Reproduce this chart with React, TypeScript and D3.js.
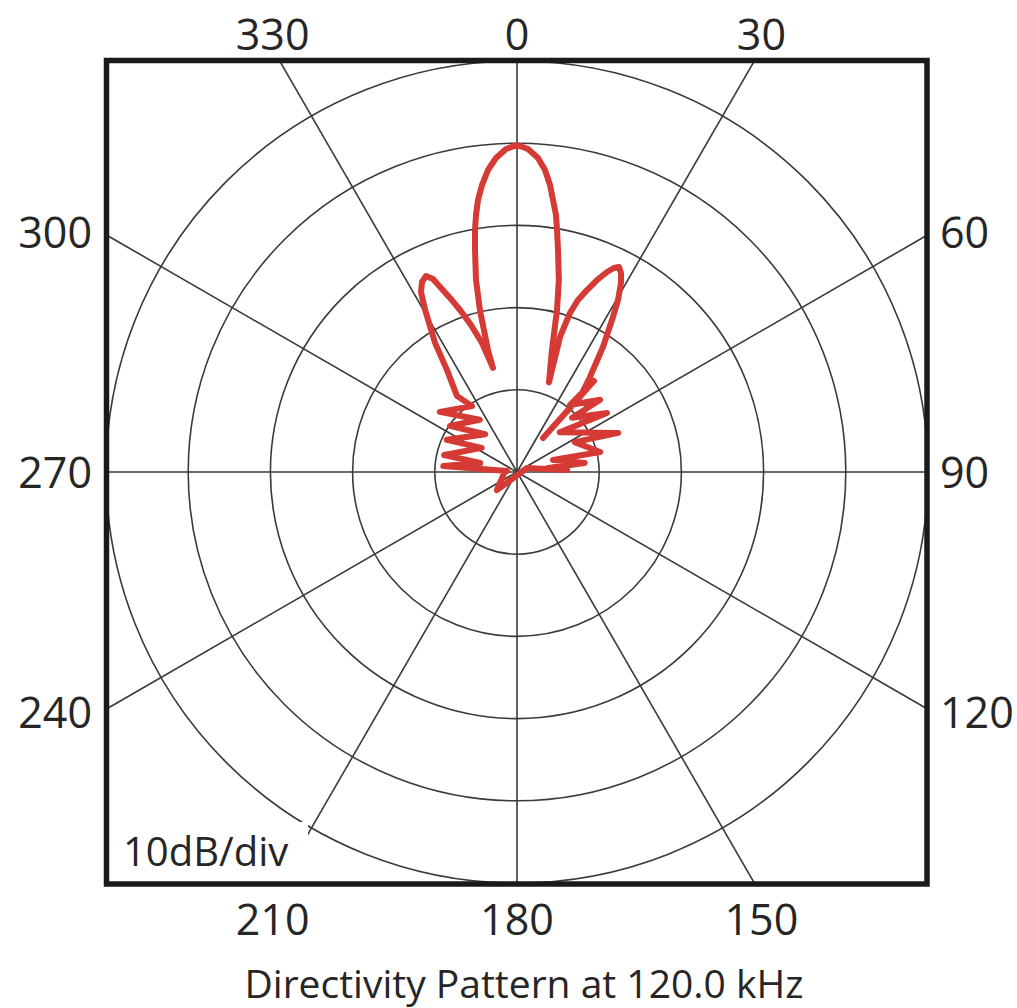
import React from "react";
import * as d3 from "d3";

// ---- Data ----
// Polar grid: 10 dB per division, 5 divisions
const ringLevels = [-40, -30, -20, -10, 0];
const spokeAngles = [0, 30, 60, 90, 120, 150, 180, 210, 240, 270, 300, 330];
const topLabels = ["330", "0", "30"];
const bottomLabels = ["210", "180", "150"];
const leftLabels = ["300", "270", "240"];
const rightLabels = ["60", "90", "120"];
const scaleNote = "10dB/div";
const title = "Directivity Pattern at 120.0 kHz";

// Directivity pattern trace, in drawing order (angle in degrees clockwise from 0, level in dB)
// left ripple region
const leftRippleAngles = [-84, -85.4, -76.3, -76.9, -55.6, -65.4, -40.1, -55.5, -35.4, -52.1, -34.3, -38.3];
const leftRippleLevels = [-48.8, -41.0, -45.4, -40.9, -44.8, -40.6, -44.0, -40.1, -42.2, -38.1, -40.3, -38.2];
// left side lobe
const leftLobeAngles = [-34.5, -32.4, -29.6, -28.07, -26.57, -24.9, -23.52, -22.44, -21.06, -19.38, -17.38, -15.18, -13.0];
const leftLobeLevels = [-35.0, -31.4, -27.4, -25.18, -24.16, -23.71, -24.39, -25.78, -27.31, -29.11, -31.26, -33.74, -37.0];
// main lobe
const mainLobeAngles = [
  -13.4, -12.9, -12.05, -10.71, -9.85, -9.06, -8.16, -6.95, -5.49, -3.83, -1.95, 0,
  1.95, 3.83, 5.3, 6.56, 7.54, 8.63, 9.39, 10.46, 12.3, 13.87, 16.0, 19.6,
];
const mainLobeLevels = [
  -34.8, -29.8, -26.1, -22.52, -20.12, -18.34, -16.57, -14.83, -13.09, -11.72, -10.68, -10.22,
  -10.68, -11.72, -13.1, -14.85, -16.62, -18.38, -20.16, -22.53, -26.1, -29.7, -34.6, -38.4,
];
// right side lobe
const rightLobeAngles = [17.67, 18.43, 19.53, 21.04, 22.62, 24.23, 25.43, 26.45, 27.59, 28.82, 30.42, 31.77, 34.53, 37.54, 40.03, 37.4];
const rightLobeLevels = [-32.76, -29.61, -27.8, -26.28, -24.7, -23.32, -22.52, -22.14, -22.69, -23.76, -25.73, -27.82, -31.55, -35.43, -38.08, -44.79];
// right ripple region
const rightRippleAngles = [40.2, 38.35, 49.06, 45.5, 56.75, 47.1, 68.9, 62.65, 76.5, 71.6, 82.5, 82.6, 87.7];
const rightRippleLevels = [-35.5, -39.6, -36.6, -40.6, -36.9, -42.9, -36.8, -42.1, -39.6, -45.4, -41.7, -46.2, -43.9];
// rear lobe
const rearAngles = [68, 228, 270];
const rearLevels = [-48.7, -46.7, -48.5];

const patternAngles = [
  ...leftRippleAngles, ...leftLobeAngles, ...mainLobeAngles,
  ...rightLobeAngles, ...rightRippleAngles, ...rearAngles,
];
const patternLevels = [
  ...leftRippleLevels, ...leftLobeLevels, ...mainLobeLevels,
  ...rightLobeLevels, ...rightRippleLevels, ...rearLevels,
];

export default function App() {
  const W = 1017;
  const H = 1008;
  const cx = 517;
  const cy = 472;
  const R = 411;
  const boxL = cx - R + 0.5;
  const boxR = cx + R - 1;
  const boxT = cy - R - 0.5;
  const boxB = cy + R + 1;

  const r = d3.scaleLinear().domain([-50, 0]).range([0, R]);
  const rad = (deg: number) => (deg * Math.PI) / 180;

  const pts = patternAngles.map((a, i) => ({ a, v: patternLevels[i] }));
  const line = d3
    .lineRadial<{ a: number; v: number }>()
    .angle((d) => rad(d.a))
    .radius((d) => r(d.v))
    .curve(d3.curveLinearClosed);

  const ink = "#262626";
  const font = "'Open Sans', 'DejaVu Sans', sans-serif";
  const tickSize = 43;
  const offTB = R * Math.tan(rad(30)) * 1.03;
  const offLR = R * Math.tan(rad(30)) * 1.01;

  return (
    <svg
      width={W}
      height={H}
      style={{ position: "absolute", left: 0, top: 0, background: "#fff" }}
      fontFamily={font}
    >
      <defs>
        <clipPath id="plotClip">
          <rect x={boxL} y={boxT} width={boxR - boxL} height={boxB - boxT} />
        </clipPath>
      </defs>
      <rect x={0} y={0} width={W} height={H} fill="#fff" />
      <g clipPath="url(#plotClip)">
        {spokeAngles.map((a) => (
          <line
            key={"s" + a}
            x1={cx}
            y1={cy}
            x2={cx + 700 * Math.sin(rad(a))}
            y2={cy - 700 * Math.cos(rad(a))}
            stroke="#3a3a3a"
            strokeWidth={1.6}
          />
        ))}
        {ringLevels.map((lv) => (
          <circle
            key={"c" + lv}
            cx={cx}
            cy={cy}
            r={r(lv)}
            fill="none"
            stroke="#3a3a3a"
            strokeWidth={1.6}
          />
        ))}
        <rect x={boxL} y={822} width={308 - boxL} height={boxB - 822} fill="#fff" />
        <path
          d={line(pts) || ""}
          transform={`translate(${cx},${cy})`}
          fill="none"
          stroke="#d63a35"
          strokeWidth={6}
          strokeLinejoin="round"
        />
      </g>
      <rect
        x={boxL}
        y={boxT}
        width={boxR - boxL}
        height={boxB - boxT}
        fill="none"
        stroke="#1a1a1a"
        strokeWidth={5.5}
      />
      <text x={123} y={866} fontSize={40} fill={ink}>
        {scaleNote}
      </text>
      {topLabels.map((t, i) => (
        <text key={"t" + t} x={cx + (i - 1) * offTB} y={50} fontSize={tickSize} fill={ink} textAnchor="middle">
          {t}
        </text>
      ))}
      {bottomLabels.map((t, i) => (
        <text key={"b" + t} x={cx + (i - 1) * offTB} y={935} fontSize={tickSize} fill={ink} textAnchor="middle">
          {t}
        </text>
      ))}
      {leftLabels.map((t, i) => (
        <text key={"l" + t} x={92} y={cy + (i - 1) * offLR + 16} fontSize={tickSize} fill={ink} textAnchor="end">
          {t}
        </text>
      ))}
      {rightLabels.map((t, i) => (
        <text key={"r" + t} x={940} y={cy + (i - 1) * offLR + 16} fontSize={tickSize} fill={ink} textAnchor="start">
          {t}
        </text>
      ))}
      <text x={524} y={998} fontSize={39} fill={ink} textAnchor="middle">
        {title}
      </text>
    </svg>
  );
}
